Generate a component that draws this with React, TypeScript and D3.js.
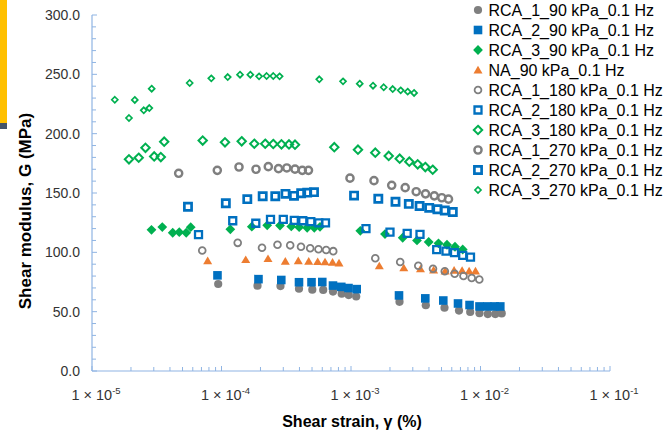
import React from 'react';
import * as d3 from 'd3';

const WIDTH = 671;
const HEIGHT = 430;

// Shear strain (%) and shear modulus G (MPa) per specimen / confining pressure
const rca1_90_strain = [9.43e-5, 1.897e-4, 2.854e-4, 3.967e-4, 5.025e-4, 6.1e-4, 7.26e-4, 8.476e-4, 9.6e-4, 1.097e-3, 2.369e-3, 3.782e-3, 5.272e-3, 6.823e-3, 8.326e-3, 9.82e-3, 1.139e-2, 1.301e-2, 1.458e-2];
const rca1_90_G = [73.3, 71.9, 71.6, 69.3, 68.5, 68.3, 66.9, 65.2, 64.0, 62.8, 58.3, 55.4, 53.3, 50.9, 49.7, 48.7, 48.0, 48.0, 48.5];

const rca2_90_strain = [9.31e-5, 1.93e-4, 2.895e-4, 3.967e-4, 4.955e-4, 6.0e-4, 7.26e-4, 8.415e-4, 9.565e-4, 1.107e-3, 2.348e-3, 3.748e-3, 5.16e-3, 6.704e-3, 8.23e-3, 9.82e-3, 1.128e-2, 1.287e-2, 1.422e-2];
const rca2_90_G = [80.6, 77.4, 76.7, 74.8, 74.8, 75.0, 72.0, 70.9, 69.9, 69.0, 63.7, 61.2, 59.4, 56.9, 55.6, 54.4, 54.4, 54.4, 54.4];

const rca3_90_strain = [2.88e-5, 3.49e-5, 4.2e-5, 4.72e-5, 5.34e-5, 5.785e-5, 1.17e-4, 1.714e-4, 2.254e-4, 2.83e-4, 3.459e-4, 3.98e-4, 4.589e-4, 5.207e-4, 5.763e-4, 1.18e-3, 1.83e-3, 2.507e-3, 3.233e-3, 3.98e-3, 4.739e-3, 5.51e-3, 6.355e-3, 7.29e-3];
const rca3_90_G = [119.0, 121.3, 116.5, 117.0, 116.5, 121.2, 119.4, 121.6, 122.8, 122.6, 121.8, 121.2, 120.7, 120.7, 121.5, 118.1, 115.4, 112.3, 110.0, 108.7, 107.6, 106.4, 104.7, 102.4];

const na_90_strain = [7.82e-5, 1.538e-4, 2.286e-4, 3.11e-4, 3.917e-4, 4.714e-4, 5.53e-4, 6.3e-4, 7.2e-4, 8.08e-4, 1.654e-3, 2.557e-3, 3.44e-3, 4.343e-3, 5.33e-3, 6.254e-3, 7.21e-3, 8.17e-3, 9.15e-3];
const na_90_G = [92.9, 93.8, 94.6, 92.4, 92.9, 92.4, 92.1, 91.9, 91.6, 90.9, 88.5, 86.8, 86.0, 85.1, 84.2, 84.8, 84.6, 84.2, 84.2];

const rca1_180_strain = [7.1e-5, 1.334e-4, 2.055e-4, 2.706e-4, 3.392e-4, 4.11e-4, 4.84e-4, 5.61e-4, 6.43e-4, 7.29e-4, 1.54e-3, 2.398e-3, 3.308e-3, 4.297e-3, 5.3e-3, 6.32e-3, 7.39e-3, 8.55e-3, 9.79e-3];
const rca1_180_G = [101.5, 108.0, 103.9, 106.4, 105.9, 104.7, 103.5, 102.6, 102.0, 101.0, 95.0, 91.9, 88.7, 86.2, 84.0, 82.0, 80.1, 78.4, 77.1];

const rca2_180_strain = [6.645e-5, 1.221e-4, 1.84e-4, 2.39e-4, 3.0e-4, 3.65e-4, 4.244e-4, 4.894e-4, 5.64e-4, 6.355e-4, 1.305e-3, 2.0e-3, 2.716e-3, 3.41e-3, 4.59e-3, 5.415e-3, 6.3e-3, 7.29e-3, 8.37e-3];
const rca2_180_G = [115.0, 126.6, 124.5, 127.7, 127.8, 127.0, 126.6, 125.9, 124.9, 124.9, 119.9, 117.1, 115.9, 115.2, 102.2, 101.0, 99.7, 97.5, 95.9];

const rca3_180_strain = [1.93e-5, 2.294e-5, 2.588e-5, 3.022e-5, 3.399e-5, 3.61e-5, 7.16e-5, 1.064e-4, 1.432e-4, 1.792e-4, 2.176e-4, 2.51e-4, 2.905e-4, 3.32e-4, 3.695e-4, 7.43e-4, 1.132e-3, 1.54e-3, 1.955e-3, 2.377e-3, 2.82e-3, 3.274e-3, 3.748e-3, 4.275e-3];
const rca3_180_G = [178.4, 179.7, 188.1, 180.8, 180.3, 193.2, 194.2, 192.7, 193.6, 191.5, 191.5, 191.3, 191.0, 190.9, 190.7, 188.6, 186.5, 184.0, 181.2, 178.9, 176.4, 174.2, 171.9, 169.6];

const rca1_270_strain = [4.67e-5, 9.28e-5, 1.365e-4, 1.847e-4, 2.298e-4, 2.755e-4, 3.193e-4, 3.695e-4, 4.206e-4, 4.696e-4, 9.82e-4, 1.505e-3, 2.062e-3, 2.621e-3, 3.188e-3, 3.762e-3, 4.397e-3, 5.025e-3, 5.66e-3];
const rca1_270_G = [166.6, 169.1, 171.9, 170.0, 172.2, 170.5, 171.1, 170.1, 169.1, 169.1, 162.5, 160.4, 156.5, 154.5, 151.1, 149.3, 147.6, 146.0, 144.8];

const rca2_270_strain = [5.51e-5, 1.08e-4, 1.582e-4, 2.08e-4, 2.602e-4, 3.12e-4, 3.63e-4, 4.124e-4, 4.589e-4, 5.18e-4, 1.056e-3, 1.625e-3, 2.206e-3, 2.795e-3, 3.386e-3, 4.017e-3, 4.647e-3, 5.3e-3, 6.11e-3];
const rca2_270_G = [138.4, 141.3, 144.8, 147.3, 147.2, 149.3, 147.6, 149.8, 150.3, 150.7, 147.8, 145.1, 142.6, 140.8, 139.1, 137.5, 136.3, 135.3, 134.0];

const rca3_270_strain = [1.5e-5, 1.93e-5, 2.14e-5, 2.51e-5, 2.77e-5, 2.89e-5, 5.68e-5, 8.34e-5, 1.117e-4, 1.39e-4, 1.67e-4, 1.95e-4, 2.23e-4, 2.51e-4, 2.81e-4, 5.69e-4, 8.68e-4, 1.168e-3, 1.479e-3, 1.789e-3, 2.099e-3, 2.42e-3, 2.74e-3, 3.07e-3];
const rca3_270_G = [228.6, 213.2, 228.4, 219.7, 221.6, 237.9, 242.7, 246.6, 247.7, 249.7, 249.7, 248.3, 248.6, 248.6, 248.3, 245.8, 244.1, 242.1, 240.4, 239.1, 237.6, 236.5, 235.4, 234.3];

const seriesNames = [
  'RCA_1_90 kPa_0.1 Hz',
  'RCA_2_90 kPa_0.1 Hz',
  'RCA_3_90 kPa_0.1 Hz',
  'NA_90 kPa_0.1 Hz',
  'RCA_1_180 kPa_0.1 Hz',
  'RCA_2_180 kPa_0.1 Hz',
  'RCA_3_180 kPa_0.1 Hz',
  'RCA_1_270 kPa_0.1 Hz',
  'RCA_2_270 kPa_0.1 Hz',
  'RCA_3_270 kPa_0.1 Hz',
];

const yTickValues = [0, 50, 100, 150, 200, 250, 300];
const xTickExponents = [-5, -4, -3, -2, -1];

const GRAY = '#7f7f7f';
const BLUE = '#0070c0';
const GREEN = '#00b050';
const ORANGE = '#ed7d31';
const AXIS = '#8fb4e3';

type MarkerStyle = {
  shape: 'circle' | 'square' | 'diamond' | 'triangle';
  size: number;
  fill: string;
  stroke: string;
  strokeWidth: number;
};

const markerStyles: MarkerStyle[] = [
  { shape: 'circle', size: 4.1, fill: GRAY, stroke: 'none', strokeWidth: 0 },
  { shape: 'square', size: 4.3, fill: BLUE, stroke: 'none', strokeWidth: 0 },
  { shape: 'diamond', size: 4.9, fill: GREEN, stroke: 'none', strokeWidth: 0 },
  { shape: 'triangle', size: 4.5, fill: ORANGE, stroke: 'none', strokeWidth: 0 },
  { shape: 'circle', size: 3.4, fill: 'none', stroke: GRAY, strokeWidth: 1.8 },
  { shape: 'square', size: 3.5, fill: 'none', stroke: BLUE, strokeWidth: 2.3 },
  { shape: 'diamond', size: 4.2, fill: 'none', stroke: GREEN, strokeWidth: 2 },
  { shape: 'circle', size: 3.6, fill: 'none', stroke: GRAY, strokeWidth: 2.4 },
  { shape: 'square', size: 3.6, fill: 'none', stroke: BLUE, strokeWidth: 2.7 },
  { shape: 'diamond', size: 3.0, fill: 'none', stroke: GREEN, strokeWidth: 1.7 },
];

const seriesData = [
  [rca1_90_strain, rca1_90_G],
  [rca2_90_strain, rca2_90_G],
  [rca3_90_strain, rca3_90_G],
  [na_90_strain, na_90_G],
  [rca1_180_strain, rca1_180_G],
  [rca2_180_strain, rca2_180_G],
  [rca3_180_strain, rca3_180_G],
  [rca1_270_strain, rca1_270_G],
  [rca2_270_strain, rca2_270_G],
  [rca3_270_strain, rca3_270_G],
];

function markerPath(shape: MarkerStyle['shape'], h: number): string {
  const p = d3.path();
  if (shape === 'circle') {
    p.arc(0, 0, h, 0, Math.PI * 2);
  } else if (shape === 'square') {
    p.rect(-h, -h, 2 * h, 2 * h);
  } else if (shape === 'diamond') {
    p.moveTo(0, -h);
    p.lineTo(h, 0);
    p.lineTo(0, h);
    p.lineTo(-h, 0);
    p.closePath();
  } else {
    p.moveTo(0, -h * 0.95);
    p.lineTo(h, h * 0.75);
    p.lineTo(-h, h * 0.75);
    p.closePath();
  }
  return p.toString();
}

function Marker({ style, x, y }: { style: MarkerStyle; x: number; y: number }) {
  return (
    <path
      d={markerPath(style.shape, style.size)}
      transform={`translate(${x},${y})`}
      fill={style.fill}
      stroke={style.stroke}
      strokeWidth={style.strokeWidth}
    />
  );
}

export default function App() {
  const x = d3.scaleLog().domain([1e-5, 1e-1]).range([92, 610]);
  const y = d3.scaleLinear().domain([0, 300]).range([371, 15]);

  const xTicks = x.ticks();
  const yMinor = d3.range(0, 301, 10);
  const font = 'Liberation Sans, Arial, Helvetica, sans-serif';

  return (
    <svg
      width={WIDTH}
      height={HEIGHT}
      style={{ position: 'absolute', left: 0, top: 0, background: '#fff' }}
      fontFamily={font}
    >
      <rect x={0} y={0} width={WIDTH} height={HEIGHT} fill="#fff" />
      {/* page edge accents */}
      <rect x={0} y={0} width={7} height={123} fill="#ffc000" />
      <rect x={0} y={123} width={7} height={6} fill="#44546a" />

      {/* y axis */}
      <line x1={x.range()[0]} x2={x.range()[0]} y1={y(300)} y2={y(0)} stroke={AXIS} strokeWidth={1.2} />
      {yMinor.map((v) => (
        <line
          key={`ym${v}`}
          x1={x.range()[0]}
          x2={x.range()[0] + (v % 50 === 0 ? 5 : 4)}
          y1={y(v)}
          y2={y(v)}
          stroke={AXIS}
          strokeWidth={1}
        />
      ))}
      {yTickValues.map((v) => (
        <text key={`yl${v}`} x={80} y={y(v)} dy="0.36em" textAnchor="end" fontSize={14} fill="#333">
          {d3.format('.1f')(v)}
        </text>
      ))}

      {/* x axis */}
      <line x1={x.range()[0]} x2={x.range()[1]} y1={y(0)} y2={y(0)} stroke={AXIS} strokeWidth={1.2} />
      {xTicks.map((v, i) => {
        const major = Math.abs(Math.log10(v) - Math.round(Math.log10(v))) < 1e-6;
        return (
          <line
            key={`xt${i}`}
            x1={x(v)}
            x2={x(v)}
            y1={y(0)}
            y2={y(0) - (major ? 5 : 4)}
            stroke={AXIS}
            strokeWidth={1}
          />
        );
      })}
      {xTickExponents.map((e) => (
        <text key={`xl${e}`} x={x(Math.pow(10, e)) + 4} y={400} textAnchor="middle" fontSize={14.5} fill="#333">
          1 × 10
          <tspan fontSize={9.5} dy={-6}>{e}</tspan>
        </text>
      ))}

      {/* axis titles */}
      <text x={352} y={427} textAnchor="middle" fontSize={16} fontWeight="bold" fill="#000">
        Shear strain, γ (%)
      </text>
      <text
        transform={`translate(31,${(y(0) + y(300)) / 2 + 18}) rotate(-90)`}
        textAnchor="middle"
        fontSize={17}
        fontWeight="bold"
        fill="#000"
      >
        Shear modulus, G (MPa)
      </text>

      {/* data */}
      {seriesData.map(([xs, gs], si) => (
        <g key={`s${si}`}>
          {xs.map((sv, i) => (
            <Marker key={i} style={markerStyles[si]} x={x(sv)} y={y(gs[i])} />
          ))}
        </g>
      ))}

      {/* legend */}
      {seriesNames.map((name, i) => (
        <g key={`lg${i}`} transform={`translate(478,${10 + i * 20})`}>
          <Marker style={markerStyles[i]} x={0} y={0} />
          <text x={10.5} y={0} dy="0.36em" fontSize={16} fill="#000">
            {name}
          </text>
        </g>
      ))}
    </svg>
  );
}
